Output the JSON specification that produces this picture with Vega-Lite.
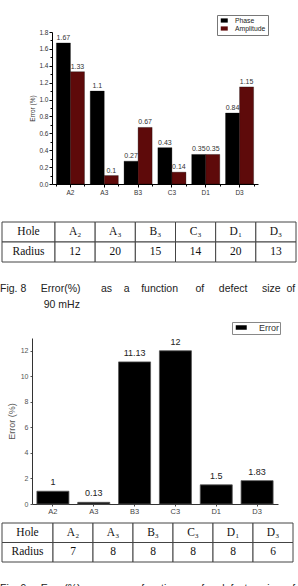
{
  "$schema": "https://vega.github.io/schema/vega-lite/v6.json",
  "padding": 0,
  "spacing": 0,
  "bounds": "flush",
  "resolve": {"scale": {"color": "independent"}, "legend": {"color": "independent"}},
  "config": {
    "view": {"stroke": null},
    "font": "Liberation Sans",
    "axis": {"labelFont": "Liberation Sans", "titleFont": "Liberation Sans", "grid": false},
    "legend": {"labelFont": "Liberation Sans"},
    "concat": {"spacing": 0}
  },
  "datasets": {
    "c1": [
      {"hole": "A2", "series": "Phase", "value": 1.67},
      {"hole": "A2", "series": "Amplitude", "value": 1.33},
      {"hole": "A3", "series": "Phase", "value": 1.1},
      {"hole": "A3", "series": "Amplitude", "value": 0.1},
      {"hole": "B3", "series": "Phase", "value": 0.27},
      {"hole": "B3", "series": "Amplitude", "value": 0.67},
      {"hole": "C3", "series": "Phase", "value": 0.43},
      {"hole": "C3", "series": "Amplitude", "value": 0.14},
      {"hole": "D1", "series": "Phase", "value": 0.35},
      {"hole": "D1", "series": "Amplitude", "value": 0.35},
      {"hole": "D3", "series": "Phase", "value": 0.84},
      {"hole": "D3", "series": "Amplitude", "value": 1.15}
    ],
    "c2": [
      {"hole": "A2", "series": "Error", "value": 1},
      {"hole": "A3", "series": "Error", "value": 0.13},
      {"hole": "B3", "series": "Error", "value": 11.13},
      {"hole": "C3", "series": "Error", "value": 12},
      {"hole": "D1", "series": "Error", "value": 1.5},
      {"hole": "D3", "series": "Error", "value": 1.83}
    ],
    "tl": [
      {"row": "Hole", "col": "h", "text": "Hole"},
      {"row": "Radius", "col": "h", "text": "Radius"}
    ],
    "t1": [
      {"row": "Hole", "col": "A2", "text": "A₂"},
      {"row": "Hole", "col": "A3", "text": "A₃"},
      {"row": "Hole", "col": "B3", "text": "B₃"},
      {"row": "Hole", "col": "C3", "text": "C₃"},
      {"row": "Hole", "col": "D1", "text": "D₁"},
      {"row": "Hole", "col": "D3", "text": "D₃"},
      {"row": "Radius", "col": "A2", "text": "12"},
      {"row": "Radius", "col": "A3", "text": "20"},
      {"row": "Radius", "col": "B3", "text": "15"},
      {"row": "Radius", "col": "C3", "text": "14"},
      {"row": "Radius", "col": "D1", "text": "20"},
      {"row": "Radius", "col": "D3", "text": "13"}
    ],
    "t2": [
      {"row": "Hole", "col": "A2", "text": "A₂"},
      {"row": "Hole", "col": "A3", "text": "A₃"},
      {"row": "Hole", "col": "B3", "text": "B₃"},
      {"row": "Hole", "col": "C3", "text": "C₃"},
      {"row": "Hole", "col": "D1", "text": "D₁"},
      {"row": "Hole", "col": "D3", "text": "D₃"},
      {"row": "Radius", "col": "A2", "text": "7"},
      {"row": "Radius", "col": "A3", "text": "8"},
      {"row": "Radius", "col": "B3", "text": "8"},
      {"row": "Radius", "col": "C3", "text": "8"},
      {"row": "Radius", "col": "D1", "text": "8"},
      {"row": "Radius", "col": "D3", "text": "6"}
    ]
  },
  "vconcat": [
    {
      "width": 298,
      "height": 205,
      "data": {"name": "c1"},
      "layer": [
        {
          "mark": {"type": "bar", "stroke": "#000", "strokeWidth": 0.3},
          "encoding": {
            "x": {"field": "hole", "type": "nominal", "sort": null,
              "scale": {"range": [52, 258], "paddingInner": 0.17, "paddingOuter": 0.13},
              "axis": {"title": null, "orient": "bottom", "offset": -21, "labelAngle": 0, "labelFontSize": 6.5, "labelColor": "#333", "tickSize": 3, "tickColor": "#000", "domainColor": "#000", "labelPadding": 2}},
            "xOffset": {"field": "series", "type": "nominal", "sort": ["Phase", "Amplitude"], "scale": {"paddingInner": 0}},
            "y": {"field": "value", "type": "quantitative",
              "scale": {"domain": [0, 1.8], "range": [184, 32], "nice": false},
              "axis": {"title": "Error (%)", "orient": "left", "offset": -52, "values": [0, 0.2, 0.4, 0.6, 0.8, 1.0, 1.2, 1.4, 1.6, 1.8], "format": ".1f", "labelOverlap": false, "labelFontSize": 6.5, "labelColor": "#333", "tickSize": 3, "tickColor": "#000", "domainColor": "#000", "labelPadding": 1, "titleFontSize": 6.5, "titleFontWeight": "normal", "titleColor": "#333", "titlePadding": 3}},
            "color": {"field": "series", "type": "nominal",
              "scale": {"domain": ["Phase", "Amplitude"], "range": ["#000000", "#5e0a0a"]},
              "legend": {"orient": "none", "legendX": 217, "legendY": 15, "title": null, "symbolType": "M-0.5,-0.6H1.5V0.6H-0.5Z", "symbolSize": 49, "symbolStrokeWidth": 0, "labelFontSize": 6.8, "labelColor": "#222", "labelOffset": 9, "padding": 2, "rowPadding": 0, "strokeColor": "#777", "fillColor": "#fff"}}
          }
        },
        {
          "mark": {"type": "text", "baseline": "bottom", "dy": -2, "fontSize": 7, "color": "#333"},
          "encoding": {
            "x": {"field": "hole", "type": "nominal", "sort": null,
              "axis": {"title": null, "orient": "bottom", "offset": -21, "labels": false, "domain": false, "tickBand": "extent", "tickSize": 2, "tickColor": "#000"}},
            "xOffset": {"field": "series", "type": "nominal", "sort": ["Phase", "Amplitude"]},
            "y": {"field": "value", "type": "quantitative",
              "axis": {"title": null, "orient": "left", "offset": -52, "labels": false, "domain": false, "values": [0.1, 0.3, 0.5, 0.7, 0.9, 1.1, 1.3, 1.5, 1.7], "tickSize": 2, "tickColor": "#000"}},
            "text": {"field": "value", "type": "quantitative"}
          }
        }
      ],
      "resolve": {"axis": {"x": "independent", "y": "independent"}}
    },
    {
      "width": 298,
      "height": 70,
      "title": {
        "text": [
          "Fig. 8\u00a0\u00a0\u00a0\u00a0\u00a0Error(%)\u00a0\u00a0\u00a0\u00a0\u00a0\u00a0\u00a0as\u00a0\u00a0\u00a0\u00a0a\u00a0\u00a0\u00a0\u00a0function\u00a0\u00a0\u00a0\u00a0\u00a0\u00a0of\u00a0\u00a0\u00a0\u00a0\u00a0defect\u00a0\u00a0\u00a0\u00a0\u00a0size\u00a0\u00a0of",
          "\u200b\u00a0\u00a0\u00a0\u00a0\u00a0\u00a0\u00a0\u00a0\u00a0\u00a0\u00a0\u00a0\u00a0\u00a0\u00a090 mHz"
        ],
        "orient": "bottom", "anchor": "start", "frame": "group", "offset": 9,
        "font": "Liberation Sans", "fontSize": 10.5, "fontWeight": "normal", "color": "#222", "lineHeight": 16
      },
      "layer": [
        {
          "data": {"name": "tl"},
          "layer": [
            {"mark": {"type": "rect", "fill": "#fff", "stroke": "#444", "strokeWidth": 1},
              "encoding": {
                "x": {"field": "col", "type": "nominal", "scale": {"range": [2, 55], "paddingInner": 0, "paddingOuter": 0}, "axis": null},
                "y": {"field": "row", "type": "nominal", "sort": ["Hole", "Radius"], "scale": {"range": [17, 57], "paddingInner": 0, "paddingOuter": 0}, "axis": null}
              }},
            {"mark": {"type": "text", "font": "Liberation Serif", "fontSize": 11.5, "color": "#111"},
              "encoding": {
                "x": {"field": "col", "type": "nominal", "axis": null},
                "y": {"field": "row", "type": "nominal", "sort": ["Hole", "Radius"], "axis": null},
                "text": {"field": "text"}
              }}
          ]
        },
        {
          "data": {"name": "t1"},
          "layer": [
            {"mark": {"type": "rect", "fill": "#fff", "stroke": "#444", "strokeWidth": 1},
              "encoding": {
                "x": {"field": "col", "type": "nominal", "sort": null, "scale": {"range": [55, 296], "paddingInner": 0, "paddingOuter": 0}, "axis": null},
                "y": {"field": "row", "type": "nominal", "sort": ["Hole", "Radius"], "axis": null}
              }},
            {"mark": {"type": "text", "font": "Liberation Serif", "fontSize": 11.5, "color": "#111"},
              "encoding": {
                "x": {"field": "col", "type": "nominal", "sort": null, "axis": null},
                "y": {"field": "row", "type": "nominal", "sort": ["Hole", "Radius"], "axis": null},
                "text": {"field": "text"}
              }}
          ]
        }
      ],
      "resolve": {"scale": {"x": "independent"}}
    },
    {
      "width": 298,
      "height": 240,
      "data": {"name": "c2"},
      "encoding": {
        "x": {"field": "hole", "type": "nominal", "sort": null,
          "scale": {"range": [32, 278], "paddingInner": 0.216, "paddingOuter": 0.12},
          "axis": {"title": null, "orient": "bottom", "offset": -11, "labelAngle": 0, "labelFontSize": 7.5, "labelColor": "#444", "tickSize": 2, "tickColor": "#444", "domainColor": "#333", "labelPadding": 1}},
        "y": {"field": "value", "type": "quantitative",
          "scale": {"domain": [0, 13], "range": [229, 63], "nice": false},
          "axis": {"title": "Error (%)", "orient": "left", "offset": -32, "values": [0, 2, 4, 6, 8, 10, 12], "labelOverlap": false, "labelFontSize": 7, "labelColor": "#555", "tickSize": 2, "tickColor": "#555", "domainColor": "#333", "labelPadding": 2, "titleFontSize": 9, "titleFontWeight": "normal", "titleColor": "#555", "titlePadding": 4}}
      },
      "layer": [
        {
          "mark": {"type": "bar", "stroke": "#555", "strokeWidth": 0.8},
          "encoding": {
            "color": {"field": "series", "type": "nominal",
              "scale": {"domain": ["Error"], "range": ["#000000"]},
              "legend": {"orient": "none", "legendX": 232, "legendY": 47, "title": null, "symbolType": "M-0.5,-0.64H2.64V0.64H-0.5Z", "symbolSize": 49, "symbolStrokeWidth": 0, "labelFontSize": 9, "labelColor": "#333", "labelOffset": 17, "padding": 1, "rowPadding": 0, "strokeColor": "#888", "fillColor": "#fff"}}
          }
        },
        {
          "mark": {"type": "text", "baseline": "bottom", "dy": -4, "fontSize": 9, "color": "#222"},
          "encoding": {
            "text": {"field": "value", "type": "quantitative"}
          }
        }
      ]
    },
    {
      "width": 298,
      "height": 60,
      "title": {
        "text": "Fig. 9\u00a0\u00a0\u00a0\u00a0\u00a0Error(%)\u00a0\u00a0\u00a0\u00a0\u00a0\u00a0\u00a0as\u00a0\u00a0\u00a0\u00a0a\u00a0\u00a0\u00a0\u00a0function\u00a0\u00a0\u00a0\u00a0\u00a0\u00a0of\u00a0\u00a0\u00a0\u00a0\u00a0defect\u00a0\u00a0\u00a0\u00a0\u00a0size\u00a0\u00a0of",
        "orient": "bottom", "anchor": "start", "frame": "group", "offset": 9,
        "font": "Liberation Sans", "fontSize": 10.5, "fontWeight": "normal", "color": "#222"
      },
      "layer": [
        {
          "data": {"name": "tl"},
          "layer": [
            {"mark": {"type": "rect", "fill": "#fff", "stroke": "#444", "strokeWidth": 1},
              "encoding": {
                "x": {"field": "col", "type": "nominal", "scale": {"range": [2, 53], "paddingInner": 0, "paddingOuter": 0}, "axis": null},
                "y": {"field": "row", "type": "nominal", "sort": ["Hole", "Radius"], "scale": {"range": [8, 47], "paddingInner": 0, "paddingOuter": 0}, "axis": null}
              }},
            {"mark": {"type": "text", "font": "Liberation Serif", "fontSize": 11.5, "color": "#111"},
              "encoding": {
                "x": {"field": "col", "type": "nominal", "axis": null},
                "y": {"field": "row", "type": "nominal", "sort": ["Hole", "Radius"], "axis": null},
                "text": {"field": "text"}
              }}
          ]
        },
        {
          "data": {"name": "t2"},
          "layer": [
            {"mark": {"type": "rect", "fill": "#fff", "stroke": "#444", "strokeWidth": 1},
              "encoding": {
                "x": {"field": "col", "type": "nominal", "sort": null, "scale": {"range": [53, 293], "paddingInner": 0, "paddingOuter": 0}, "axis": null},
                "y": {"field": "row", "type": "nominal", "sort": ["Hole", "Radius"], "axis": null}
              }},
            {"mark": {"type": "text", "font": "Liberation Serif", "fontSize": 11.5, "color": "#111"},
              "encoding": {
                "x": {"field": "col", "type": "nominal", "sort": null, "axis": null},
                "y": {"field": "row", "type": "nominal", "sort": ["Hole", "Radius"], "axis": null},
                "text": {"field": "text"}
              }}
          ]
        }
      ],
      "resolve": {"scale": {"x": "independent"}}
    }
  ]
}
